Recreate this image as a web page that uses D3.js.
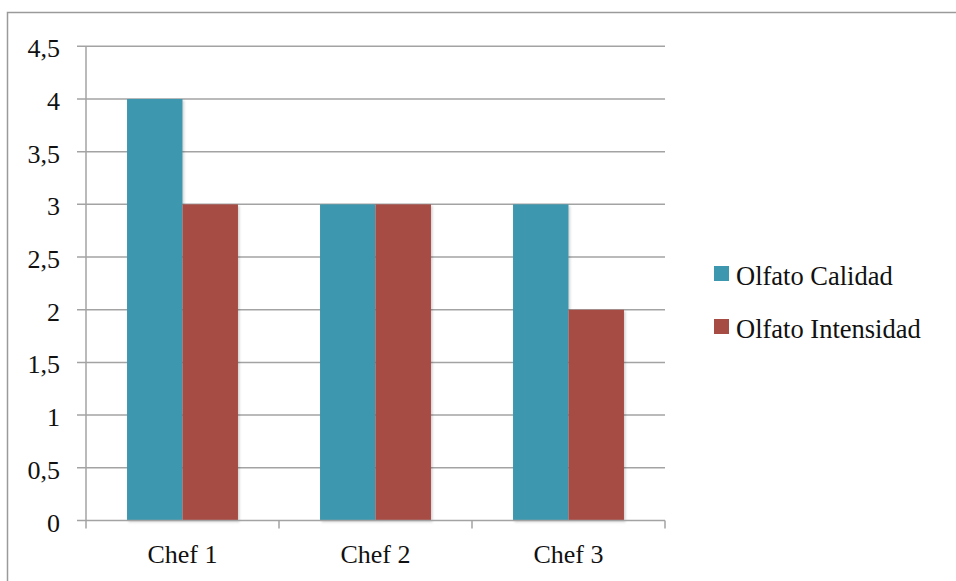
<!DOCTYPE html>
<html>
<head>
<meta charset="utf-8">
<script src="https://cdn.jsdelivr.net/npm/d3@7"></script>
<style>
  html, body { margin: 0; padding: 0; background: #fff; }
  svg { display: block; }
  text { font-family: "Liberation Serif", "Times New Roman", serif; fill: #111; }
</style>
</head>
<body>
<svg id="chart" width="956" height="581"></svg>
<script>
// Data
const categories = ["Chef 1", "Chef 2", "Chef 3"];
const seriesNames = ["Olfato Calidad", "Olfato Intensidad"];
const calidad = [4, 3, 3];
const intensidad = [3, 3, 2];
const yTicks = [0, 0.5, 1, 1.5, 2, 2.5, 3, 3.5, 4, 4.5];
const seriesColors = ["#3D97AE", "#A74B45"];

const seriesValues = [calidad, intensidad];

const svg = d3.select("#chart");
const W = 956, H = 581;
const plot = { left: 86, right: 665, top: 46.3, bottom: 520.5 };

// Outer frame
svg.append("rect")
  .attr("x", 7.5).attr("y", 12.5)
  .attr("width", W).attr("height", H)
  .attr("fill", "none")
  .attr("stroke", "#9a9a9a")
  .attr("stroke-width", 1.5);

// Soft shadow for the bars
const defs = svg.append("defs");
const f = defs.append("filter").attr("id", "shadow")
  .attr("x", "-10%").attr("y", "-10%").attr("width", "130%").attr("height", "130%");
f.append("feDropShadow")
  .attr("dx", 1.5).attr("dy", 1.5).attr("stdDeviation", 1.2)
  .attr("flood-color", "#000").attr("flood-opacity", 0.18);

// Scales
const y = d3.scaleLinear().domain([0, 4.5]).range([plot.bottom, plot.top]);
const x0 = d3.scaleBand().domain(categories).range([plot.left, plot.right]).padding(0);
const x1 = d3.scaleBand().domain(seriesNames).range([0, x0.bandwidth()])
  .paddingInner(0).paddingOuter(0.74);

const fmt = v => String(v).replace(".", ",");

// Horizontal gridlines with left tick marks
const gy = svg.append("g");
gy.selectAll("line.grid")
  .data(yTicks.filter(t => t > 0))
  .join("line")
  .attr("class", "grid")
  .attr("x1", plot.left - 9).attr("x2", plot.right)
  .attr("y1", d => y(d)).attr("y2", d => y(d))
  .attr("stroke", "#a3a3a3").attr("stroke-width", 1.5);

// Y axis labels
gy.selectAll("text")
  .data(yTicks)
  .join("text")
  .attr("x", 60)
  .attr("y", d => y(d) + 11)
  .attr("text-anchor", "end")
  .attr("font-size", 26)
  .text(d => fmt(d));

// Bars
const groups = svg.append("g").selectAll("g")
  .data(categories)
  .join("g")
  .attr("transform", c => `translate(${x0(c)},0)`);

groups.selectAll("rect")
  .data((c, i) => seriesNames.map((s, j) => ({ s, v: seriesValues[j][i], j })))
  .join("rect")
  .attr("x", d => x1(d.s))
  .attr("width", x1.bandwidth())
  .attr("y", d => y(d.v))
  .attr("height", d => y(0) - y(d.v))
  .attr("fill", d => seriesColors[d.j])
  .attr("filter", "url(#shadow)");

// Axes lines
svg.append("line")
  .attr("x1", plot.left).attr("x2", plot.left)
  .attr("y1", plot.top).attr("y2", plot.bottom)
  .attr("stroke", "#a3a3a3").attr("stroke-width", 1.5);
svg.append("line")
  .attr("x1", plot.left - 9).attr("x2", plot.right)
  .attr("y1", plot.bottom).attr("y2", plot.bottom)
  .attr("stroke", "#a3a3a3").attr("stroke-width", 1.5);

// X tick marks at band boundaries
const bounds = categories.map(c => x0(c)).concat([x0(categories[categories.length - 1]) + x0.bandwidth()]);
svg.append("g").selectAll("line")
  .data(bounds)
  .join("line")
  .attr("x1", d => d).attr("x2", d => d)
  .attr("y1", plot.bottom).attr("y2", plot.bottom + 8)
  .attr("stroke", "#a3a3a3").attr("stroke-width", 1.5);

// X labels
svg.append("g").selectAll("text")
  .data(categories)
  .join("text")
  .attr("x", c => x0(c) + x0.bandwidth() / 2)
  .attr("y", 563)
  .attr("text-anchor", "middle")
  .attr("font-size", 26)
  .text(c => c);

// Legend
const legend = svg.append("g").selectAll("g")
  .data(seriesNames)
  .join("g")
  .attr("transform", (d, i) => `translate(714,${266 + i * 53})`);
legend.append("rect")
  .attr("width", 15).attr("height", 15)
  .attr("fill", (d, i) => seriesColors[i]);
legend.append("text")
  .attr("x", 22).attr("y", 19)
  .attr("font-size", 26.5)
  .text(d => d);
</script>
</body>
</html>
